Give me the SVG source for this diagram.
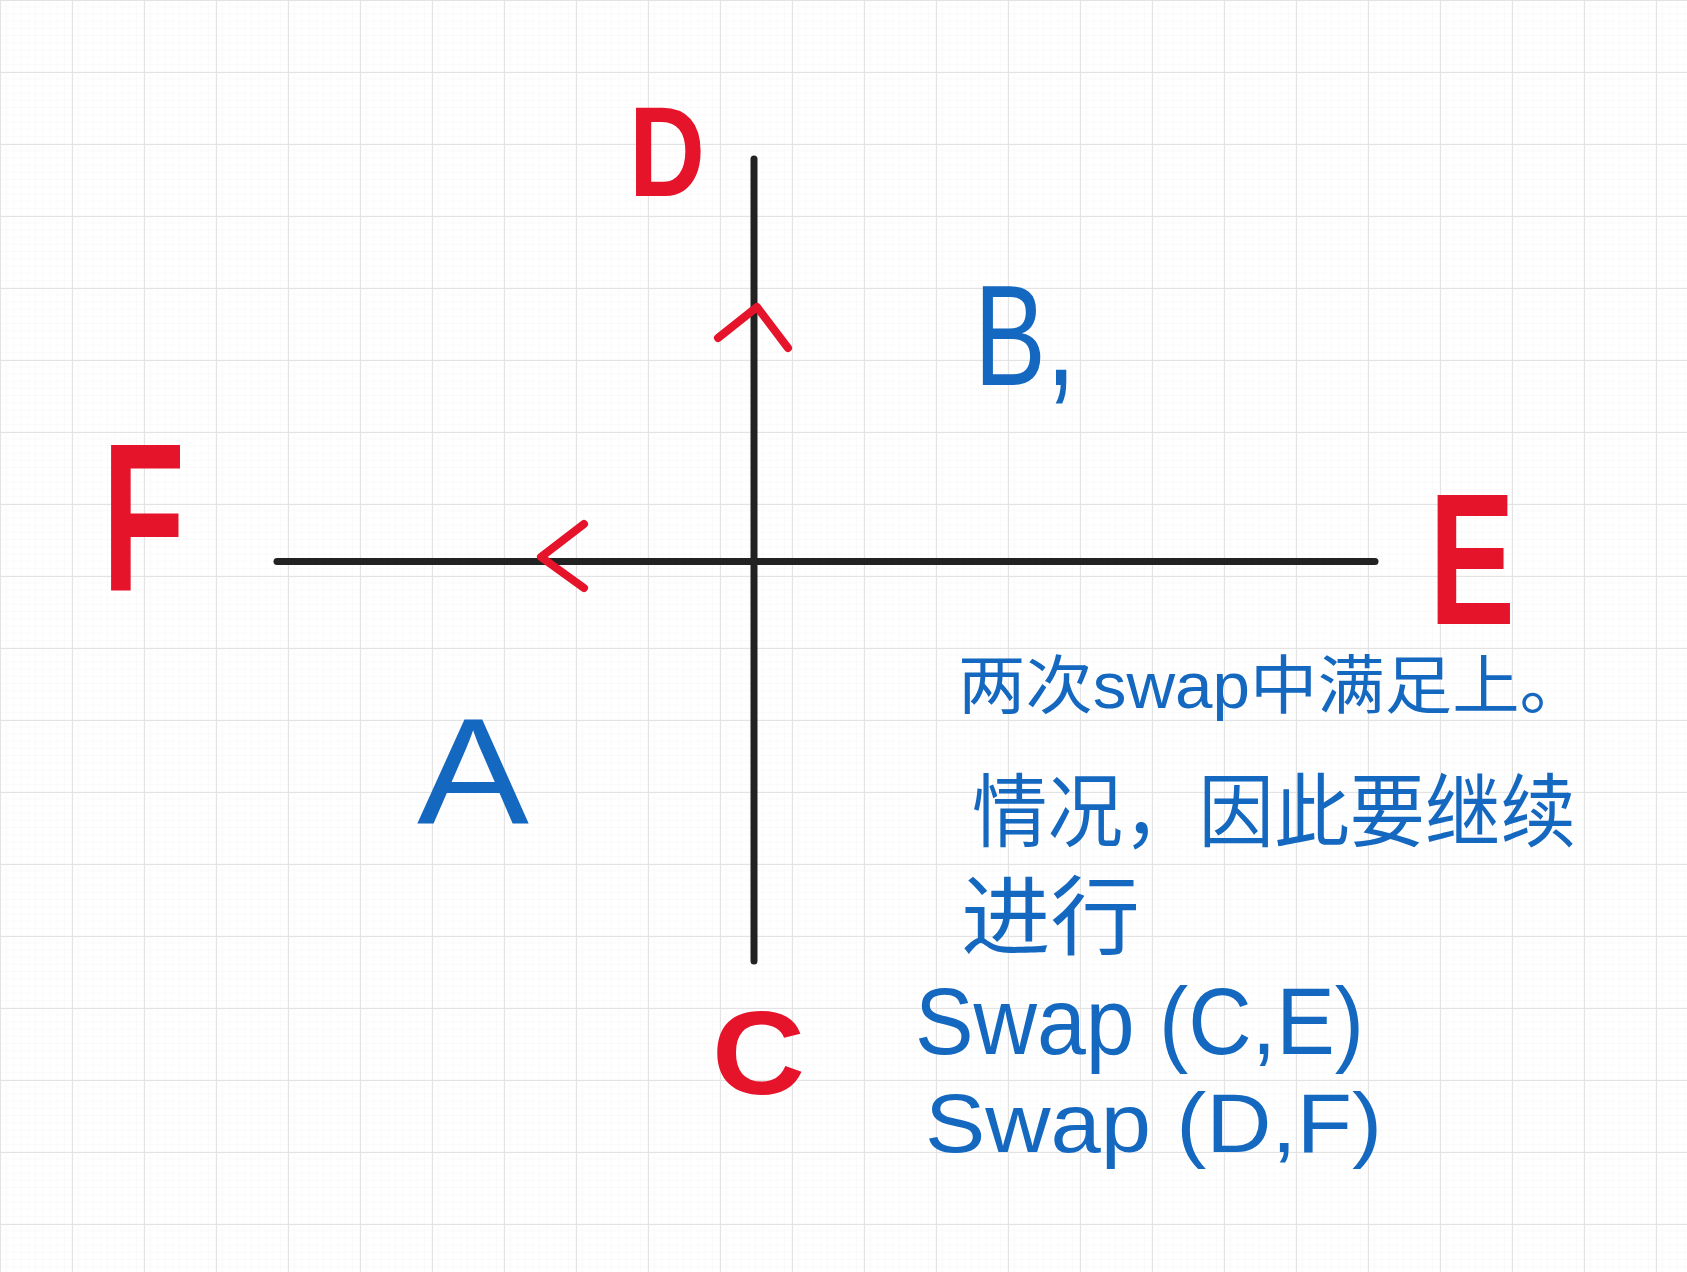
<svg xmlns="http://www.w3.org/2000/svg" width="1687" height="1272" viewBox="0 0 1687 1272">
<defs>
<pattern id="minor" width="7.2" height="7.2" patternUnits="userSpaceOnUse">
<path d="M7.2 0V7.2H0" fill="none" stroke="#f4f4f4" stroke-width="0.8"/>
</pattern>
<pattern id="major" width="72" height="72" patternUnits="userSpaceOnUse">
<path d="M0 0H72M0 0V72" fill="none" stroke="#e3e3e3" stroke-width="2"/>
</pattern>
</defs>
<style>
.red{fill:#e5142a;font-family:"Liberation Sans",sans-serif;font-weight:bold}
.blue{fill:#1468bf;font-family:"Liberation Sans","Noto Sans CJK SC",sans-serif}
.axis{stroke:#222;stroke-width:7;stroke-linecap:round;fill:none}
.arr{stroke:#e5142a;stroke-width:8;stroke-linecap:round;stroke-linejoin:round;fill:none}
</style>
<rect width="1687" height="1272" fill="#fff"/>
<rect width="1687" height="1272" fill="url(#minor)"/>
<rect width="1687" height="1272" fill="url(#major)"/>
<g id="connectors">
<path class="axis" d="M277 561.5H1375"/>
<path class="axis" d="M754 159V961"/>
<path class="arr" d="M718 338L757 307L788 348"/>
<path class="arr" d="M584 524L541 557L584 588"/>
</g>
<g id="node-D"><text class="red" x="629" y="196" font-size="128" textLength="76" lengthAdjust="spacingAndGlyphs">D</text></g>
<g id="node-F"><text class="red" x="102" y="590" font-size="212" textLength="83" lengthAdjust="spacingAndGlyphs">F</text></g>
<g id="node-E"><text class="red" x="1429" y="624" font-size="187" textLength="86" lengthAdjust="spacingAndGlyphs">E</text></g>
<g id="node-C"><text class="red" x="712" y="1094" font-size="118" textLength="93" lengthAdjust="spacingAndGlyphs">C</text></g>
<g id="node-B"><text class="blue" x="974" y="385" font-size="142" textLength="102" lengthAdjust="spacingAndGlyphs">B,</text></g>
<g id="node-A"><text class="blue" x="417" y="823" font-size="150" textLength="112" lengthAdjust="spacingAndGlyphs">A</text></g>
<g id="note">
<text class="blue" x="958" y="708" font-size="64" textLength="629" lengthAdjust="spacingAndGlyphs">两次swap中满足上。</text>
<text class="blue" x="972" y="840" font-size="80" textLength="604" lengthAdjust="spacingAndGlyphs">情况，因此要继续</text>
<text class="blue" x="961" y="948" font-size="86" textLength="179" lengthAdjust="spacingAndGlyphs">进行</text>
<text class="blue" x="915" y="1054" font-size="94" textLength="449" lengthAdjust="spacingAndGlyphs">Swap (C,E)</text>
<text class="blue" x="925" y="1152" font-size="84" textLength="457" lengthAdjust="spacingAndGlyphs">Swap (D,F)</text>
</g>
</svg>
